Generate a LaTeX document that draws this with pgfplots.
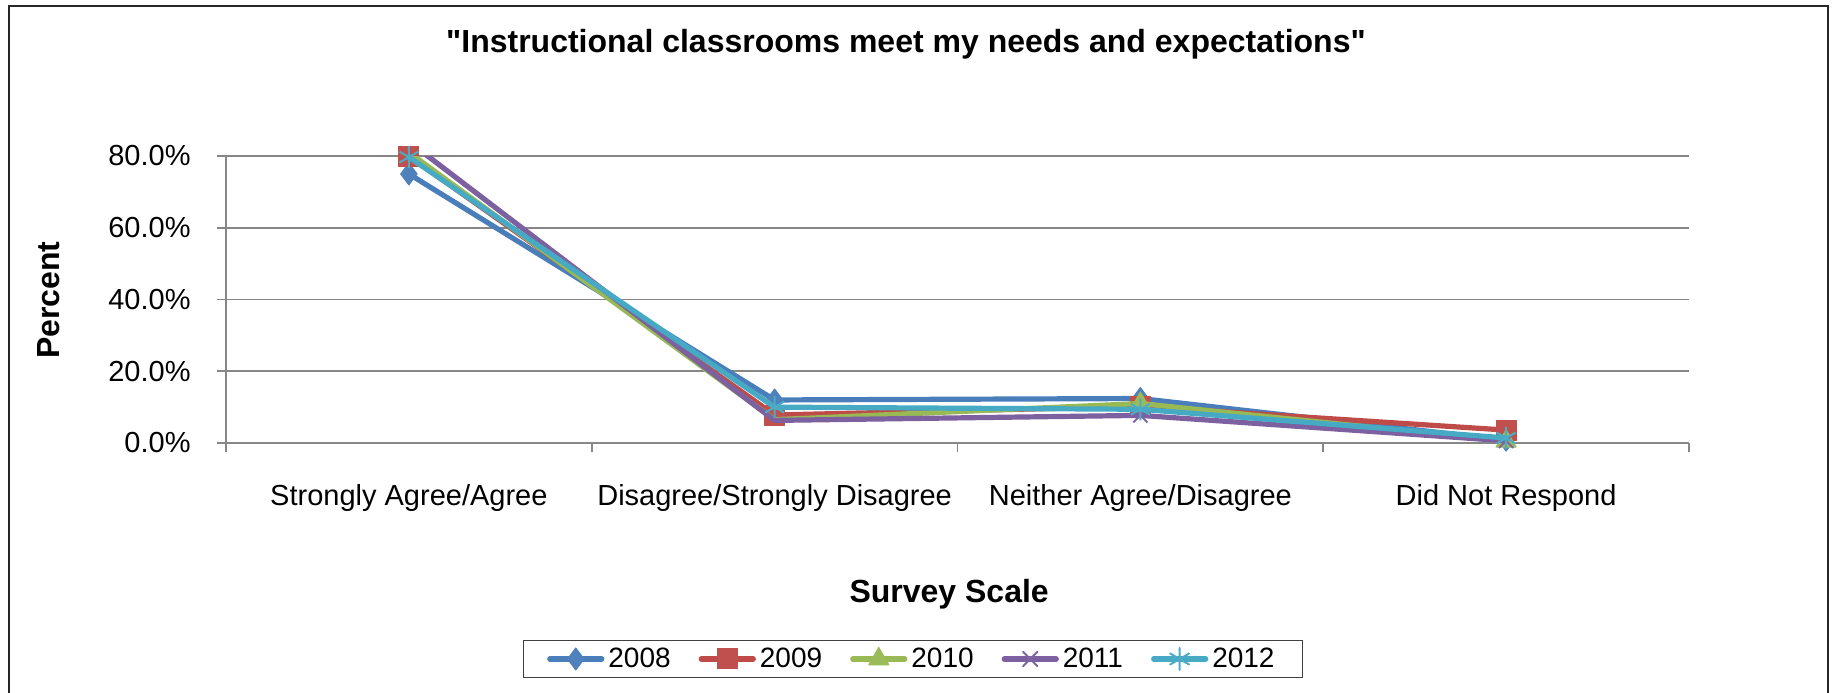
\documentclass[border=0pt]{standalone}
\usepackage{pgfplots}
\pgfplotsset{compat=1.18}
\usepackage{fontspec}
\setmainfont{Liberation Sans}[Ligatures=TeXOff]
\definecolor{c08}{HTML}{4A7EBB}
\definecolor{c09}{HTML}{BE4B48}
\definecolor{c10}{HTML}{98B954}
\definecolor{c11}{HTML}{7D60A0}
\definecolor{c12}{HTML}{46AAC5}
\definecolor{f08}{HTML}{4F81BD}
\definecolor{f09}{HTML}{C0504D}
\definecolor{f10}{HTML}{9BBB59}
\definecolor{f11}{HTML}{8064A2}
\definecolor{f12}{HTML}{4BACC6}
\definecolor{gridc}{HTML}{878787}
\begin{document}
\begin{tikzpicture}
\useasboundingbox (0,0) rectangle (917pt,346pt);
\draw[line width=0.8pt, black!85] (4.5pt,-10pt) -- (4.5pt,343pt) -- (914pt,343pt) -- (914pt,-10pt);
\begin{axis}[
  at={(113pt,124.5pt)}, anchor=south west,
  scale only axis, width=731.5pt, height=143.5pt,
  xmin=-0.5, xmax=3.5, ymin=0, ymax=80,
  axis lines=left, axis line style={-, draw=gridc, line width=0.9pt},
  xtick={-0.5,0.5,1.5,2.5,3.5}, x tick label as interval,
  xticklabels={Strongly Agree/Agree, Disagree/Strongly Disagree, Neither Agree/Disagree, Did Not Respond},
  ytick={0,20,40,60,80},
  yticklabels={0.0\%,20.0\%,40.0\%,60.0\%,80.0\%},
  tick align=outside, major tick length=4.5pt,
  tick style={draw=gridc, line width=0.9pt},
  ymajorgrids, grid style={draw=gridc, line width=0.9pt},
  /pgf/number format/assume math mode=true,
  ticklabel style={font=\fontsize{14.5}{17}\selectfont},
  xticklabel style={anchor=base, inner sep=0pt, yshift=-26.5pt},
  yticklabel style={anchor=east, inner sep=0pt, xshift=-13pt},
  clip mode=individual, clip marker paths=false,
  title={"Instructional classrooms meet my needs and expectations"},
  title style={at={(axis description cs:0.4648,1.3206)}, anchor=base, font=\fontsize{16}{19}\selectfont\bfseries, inner sep=0pt},
  xlabel={Survey Scale},
  xlabel style={at={(axis description cs:0.4943,-0.556)}, anchor=base, font=\fontsize{16}{19}\selectfont\bfseries, inner sep=0pt},
  ylabel={Percent},
  ylabel style={at={(axis description cs:-0.1135,0.498)}, anchor=base, font=\fontsize{16}{19}\selectfont\bfseries, inner sep=0pt},
  legend columns=5,
  legend style={at={(axis description cs:0.4695,-0.7526)}, anchor=center,
    draw=black!75, line width=0.6pt, font=\fontsize{14}{16}\selectfont,
    inner xsep=12pt, inner ysep=1.5pt,
    /tikz/every even column/.append style={column sep=12pt}},
  legend image code/.code={\draw[#1, line cap=round, mark indices={2}] plot coordinates {(0pt,0pt) (13pt,0pt) (26pt,0pt)};},
  every axis plot/.append style={line width=2.6pt, line join=round},
]
\addplot[c08, mark=diamond*, mark size=5.5pt, mark options={solid, fill=f08, draw=f08, line width=0.5pt}]
  coordinates {(0,75.0) (1,12.0) (2,12.4) (3,0.8)};
\addlegendentry{2008}
\addplot[c09, mark=square*, mark size=5pt, mark options={solid, fill=f09, draw=f09, line width=0.5pt}]
  coordinates {(0,80.0) (1,7.8) (2,10.2) (3,3.6)};
\addlegendentry{2009}
\addplot[c10, mark=triangle*, mark size=5.8pt, mark indices={2,3,4}, mark options={solid, fill=f10, draw=f10, line width=0.5pt}]
  coordinates {(0,81.0) (1,6.5) (2,11.0) (3,0.5)};
\addlegendentry{2010}
\addplot[c11, mark=x, mark size=5pt, mark indices={2,3,4}, mark options={solid, draw=f11, line width=1pt}]
  coordinates {(0,84.0) (1,6.3) (2,7.7) (3,0.6)};
\addlegendentry{2011}
\addplot[c12, mark=asterisk, mark size=5.5pt, mark options={solid, draw=f12, line width=1pt}]
  coordinates {(0,79.7) (1,10.0) (2,9.4) (3,1.4)};
\addlegendentry{2012}
\end{axis}
\end{tikzpicture}
\end{document}
